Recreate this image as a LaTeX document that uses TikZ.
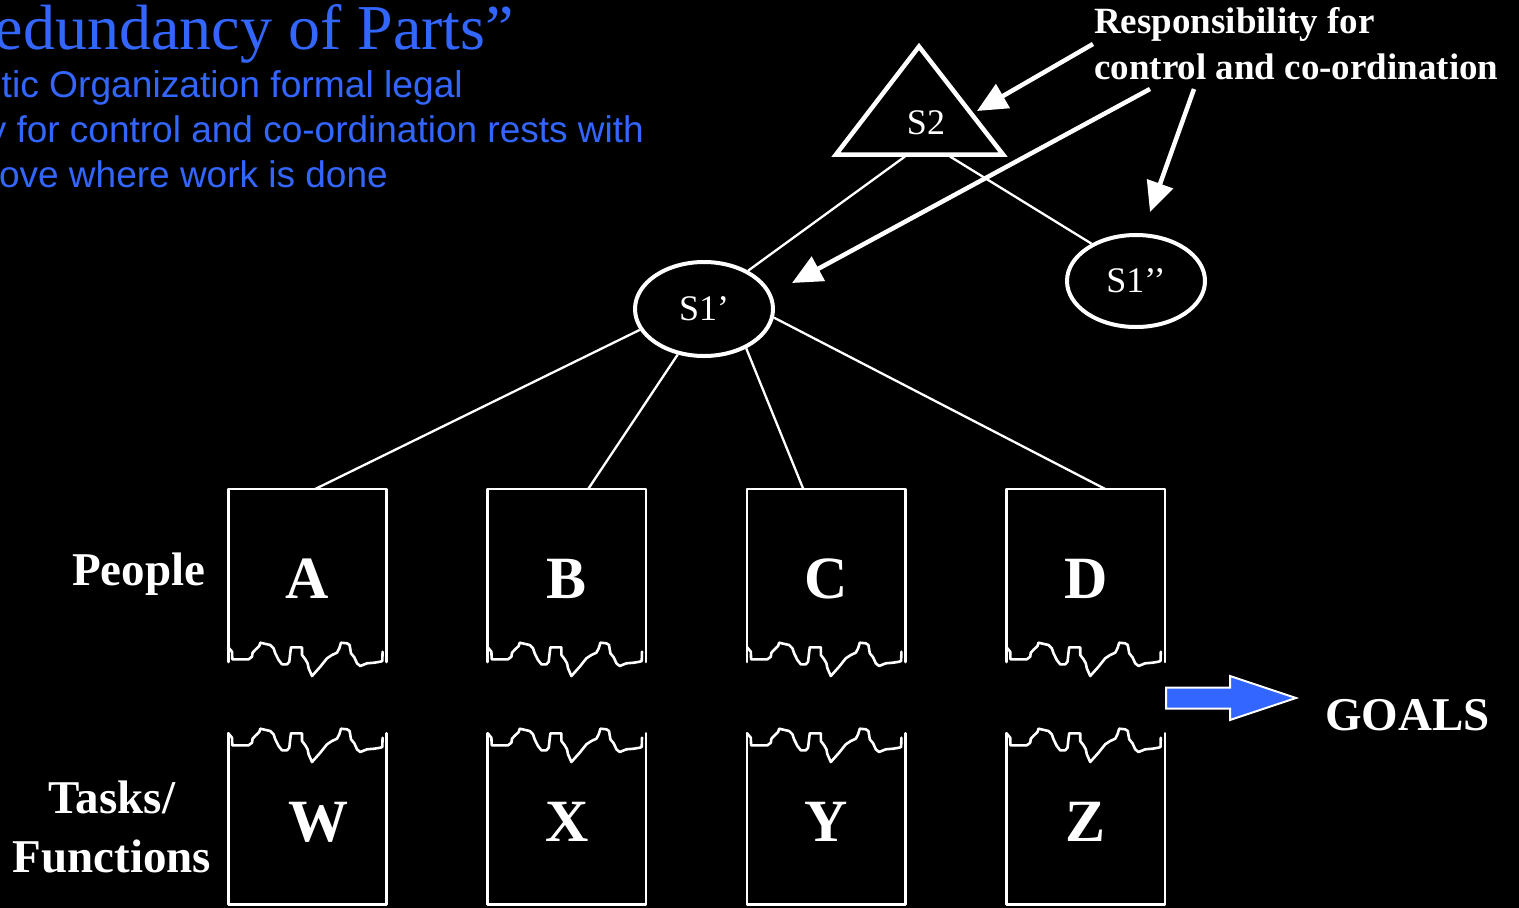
\documentclass[tikz,border=0pt]{standalone}
\usepackage{fontspec}
\setmainfont{Liberation Serif}
\newfontfamily\slidesans{Liberation Sans}
\usetikzlibrary{arrows.meta,shapes.geometric}
\definecolor{slideblue}{HTML}{3366FF}
\begin{document}
\begin{tikzpicture}[x=1pt,y=-1pt,
  link/.style={white, line width=2.3pt},
  boxline/.style={white, line width=2.6pt, line join=round, line cap=round},
  pointer/.style={white, line width=4.5pt, -{Triangle[length=30pt,width=27pt]}},
  sysnode/.style={ellipse, draw=white, line width=4pt, text=white,
    font=\fontsize{36}{40}\selectfont, inner sep=0pt},
  boxarea/.style={rectangle, inner sep=0pt, outer sep=0pt, minimum width=158.4pt,
    text=white, font=\bfseries\fontsize{60}{66}\selectfont},
  rowlabel/.style={text=white, font=\bfseries\fontsize{47}{59}\selectfont, inner sep=0pt},
  bluetext/.style={text=slideblue, inner sep=0pt, anchor=base east},
  % ragged torn edge, origin at the box's left side
  tornedge/.pic={
    \draw[boxline] (0,-12) -- (3.7,-7.6) -- (4,0) -- (20.3,0) -- (23.7,-2.6)
      -- (24.3,-6.6) -- (27,-9.5) -- (31,-13.3) -- (32,-16.6) -- (42,-14.3)
      -- (45.3,-11) -- (47,-6) -- (50.3,0.7) -- (53.7,5) -- (58.7,5) -- (61,2.4)
      -- (62,-6.6) -- (62.7,-12) -- (73.7,-12) -- (73.7,-4.3) -- (77,0)
      -- (79.3,4) -- (80.3,9) -- (83.7,16.7) -- (92,7.4) -- (98.7,-1)
      -- (103.7,-4.3) -- (108.7,-6.6) -- (111,-11) -- (112.7,-16.6)
      -- (118.7,-16) -- (121.3,-14.3) -- (122.7,-6) -- (126,-2) -- (128.7,4)
      -- (132,6.7) -- (138.7,4) -- (146,3.4) -- (152,2.4) -- (154,1.7)
      -- (154.3,-7.6);
  },
  % upper box (people): origin at its top left corner
  peoplebox/.pic={
    \draw[boxline] (0,173) -- (0,0) -- (158.4,0) -- (158.4,173);
    \pic at (0,170.3) {tornedge};
    \node[boxarea, minimum height=179pt] (-box) at (79.2,89.5) {#1};
  },
  % lower box (tasks): origin at the torn edge reference on its left side
  taskbox/.pic={
    \pic at (0,0) {tornedge};
    \draw[boxline] (0,-12) -- (0,159) -- (158.4,159) -- (158.4,-12);
    \node[boxarea, minimum height=160pt] (-box) at (79.2,77) {#1};
  }
]
% background and page size
\fill[black] (0,0) rectangle (1519,908);
\useasboundingbox (0,0) rectangle (1519,908);

% slide heading and text
\node[bluetext, font=\fontsize{64}{70}\selectfont] (title) at (514,49) {edundancy of Parts”};
\node[bluetext, font=\slidesans\fontsize{37.2}{45}\selectfont] (line1) at (463,97) {tic Organization formal legal};
\node[bluetext, font=\slidesans\fontsize{37}{45}\selectfont] (line2) at (644,142) {y for control and co-ordination rests with};
\node[bluetext, font=\slidesans\fontsize{37}{45}\selectfont] (line3) at (388,187) {ove where work is done};

% S2 triangle
\draw[white, line width=4.5pt, line join=miter] (919,46.5) -- (1003,154.5) -- (836,154.5) -- cycle;
\node[text=white, font=\fontsize{36}{40}\selectfont, inner sep=0pt] (S2) at (926,123) {S2};
\coordinate (s2l) at (905,156.5);
\coordinate (s2r) at (950,156.5);

% S1 units
\node[sysnode, minimum width=138pt, minimum height=94pt] (S1a) at (704,309) {S1’};
\node[sysnode, minimum width=138pt, minimum height=92pt] (S1b) at (1136,281) {S1’’};

% people and task boxes
\pic (A) at (228.3,489) {peoplebox=A};
\pic (B) at (487.7,489) {peoplebox=B};
\pic (C) at (747.1,489) {peoplebox=C};
\pic (D) at (1006.5,489) {peoplebox=D};
\pic (W) at (228.3,745.3) {taskbox={\hspace*{22pt}W}};
\pic (X) at (487.7,745.3) {taskbox=X};
\pic (Y) at (747.1,745.3) {taskbox=Y};
\pic (Z) at (1006.5,745.3) {taskbox=Z};

% hierarchy links
\draw[link] (s2l) -- (S1a.41.7);
\draw[link] (s2r) -- (S1b.140);
\draw[link] (S1a.198.4) -- ([xshift=7.7pt]A-box.north);
\draw[link] (S1a.240.9) -- ([xshift=21.3pt]B-box.north);
\draw[link] (S1a.317) -- ([xshift=-23pt]C-box.north);
\draw[link] (S1a.353) -- ([xshift=19.5pt]D-box.north);

% row labels
\node[rowlabel, anchor=base west] (people) at (72,585) {People};
\node[rowlabel, align=center] (tasks) at (112,826.5) {Tasks/\\Functions};

% responsibility callout
\node[anchor=north west, align=left, text=white, inner sep=0pt,
      font=\bfseries\fontsize{37}{46}\selectfont] (resp) at (1094,7.5)
      {Responsibility for\\control and co-ordination};
\coordinate (r1a) at (1093,44);  \coordinate (r1b) at (977,111);
\coordinate (r2a) at (1150,89);  \coordinate (r2b) at (792,283);
\coordinate (r3a) at (1194,89);  \coordinate (r3b) at (1150,212);
\draw[pointer] (r1a) -- (r1b);
\draw[pointer] (r2a) -- (r2b);
\draw[pointer] (r3a) -- (r3b);

% goals
\draw[white, line width=2pt, fill=slideblue, line join=miter]
  (1166,687.5) -- (1230,687.5) -- (1230,676) -- (1296,698) -- (1230,720)
  -- (1230,708.5) -- (1166,708.5) -- cycle;
\node[rowlabel, anchor=base west] (goals) at (1325,730) {GOALS};
\end{tikzpicture}
\end{document}
